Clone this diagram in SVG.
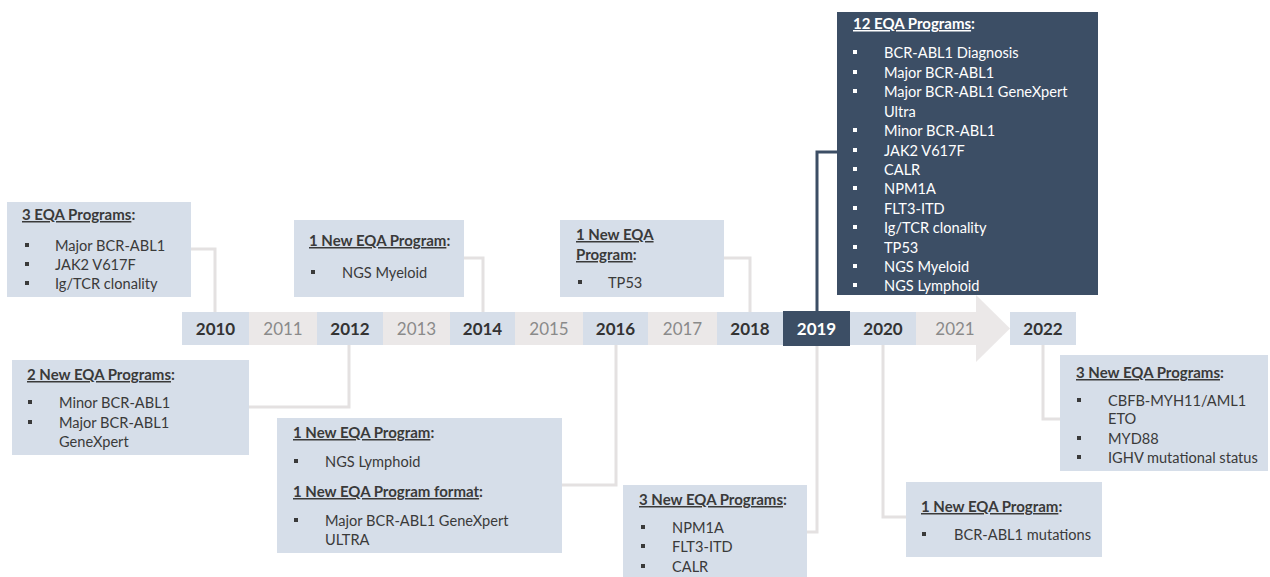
<svg xmlns="http://www.w3.org/2000/svg" width="1270" height="577" viewBox="0 0 1270 577">
<style>
text{font-family:Lato,"Open Sans","Liberation Sans",sans-serif;}
.box{fill:#d6dee9;}
.dark{fill:#3c4e65;}
.t{font-size:15px;font-weight:bold;fill:#3a3a3a;}
.i{font-size:14.6px;fill:#3a3a3a;}
.dk .t,.dk .i{fill:#ffffff;}
.u{text-decoration:underline;}
.b{fill:#3a3a3a;}
.dk .b{fill:#ffffff;}
.yb{font-size:17px;font-weight:bold;fill:#333333;text-anchor:middle;}
.yr{font-size:17px;fill:#8a8a8a;text-anchor:middle;}
.yw{font-size:17px;font-weight:bold;fill:#ffffff;text-anchor:middle;}
.con{fill:none;stroke:#e4e1e1;stroke-width:3;}
.cond{fill:none;stroke:#3c4e65;stroke-width:3;}
</style>

<g id="timeline">
  <rect x="182" y="312" width="796" height="33" fill="#ebe8e8"/>
  <polygon points="976,295 1010,328.5 976,362" fill="#ebe8e8"/>
  <rect x="182" y="312" width="67" height="33" class="box"/>
  <rect x="317" y="312" width="66" height="33" class="box"/>
  <rect x="450" y="312" width="65" height="33" class="box"/>
  <rect x="583" y="312" width="65" height="33" class="box"/>
  <rect x="717" y="312" width="66" height="33" class="box"/>
  <rect x="783" y="311" width="67" height="35" class="dark"/>
  <rect x="850" y="312" width="66" height="33" class="box"/>
  <rect x="1010" y="312" width="66" height="33" class="box"/>
  <text x="215.5" y="335" class="yb">2010</text>
  <text x="283" y="335" class="yr">2011</text>
  <text x="350" y="335" class="yb">2012</text>
  <text x="416.5" y="335" class="yr">2013</text>
  <text x="482.5" y="335" class="yb">2014</text>
  <text x="549" y="335" class="yr">2015</text>
  <text x="615.5" y="335" class="yb">2016</text>
  <text x="682.5" y="335" class="yr">2017</text>
  <text x="750" y="335" class="yb">2018</text>
  <text x="816.5" y="335" class="yw">2019</text>
  <text x="883" y="335" class="yb">2020</text>
  <text x="955" y="335" class="yr">2021</text>
  <text x="1043" y="335" class="yb">2022</text>
</g>

<g id="connectors">
  <polyline class="con" points="191,249 215,249 215,312"/>
  <polyline class="con" points="464,258 483,258 483,312"/>
  <polyline class="con" points="724,258 750,258 750,312"/>
  <polyline class="con" points="349,345 349,407 249,407"/>
  <polyline class="con" points="616,345 616,485 562,485"/>
  <polyline class="con" points="817,346 817,532 807,532"/>
  <polyline class="con" points="883,345 883,517 906,517"/>
  <polyline class="con" points="1043,345 1043,419 1060,419"/>
  <polyline class="cond" points="817,311 817,152 837,152"/>
</g>

<g id="box2010">
  <rect x="7" y="202" width="184" height="95" class="box"/>
  <text x="22" y="220" class="t"><tspan class="u">3 EQA Programs</tspan>:</text>
  <rect x="25" y="243" width="4" height="4" class="b"/>
  <rect x="25" y="262" width="4" height="4" class="b"/>
  <rect x="25" y="281" width="4" height="4" class="b"/>
  <text x="55" y="251" class="i">Major BCR-ABL1</text>
  <text x="55" y="270" class="i">JAK2 V617F</text>
  <text x="55" y="289" class="i">Ig/TCR clonality</text>
</g>

<g id="box2012">
  <rect x="12" y="360" width="237" height="95" class="box"/>
  <text x="27" y="380" class="t"><tspan class="u">2 New EQA Programs</tspan>:</text>
  <rect x="28" y="400" width="4" height="4" class="b"/>
  <rect x="28" y="420" width="4" height="4" class="b"/>
  <text x="59" y="408" class="i">Minor BCR-ABL1</text>
  <text x="59" y="428" class="i">Major BCR-ABL1</text>
  <text x="59" y="447" class="i">GeneXpert</text>
</g>

<g id="box2014">
  <rect x="294" y="220" width="170" height="77" class="box"/>
  <text x="309" y="246" class="t"><tspan class="u">1 New EQA Program</tspan>:</text>
  <rect x="311" y="270" width="4" height="4" class="b"/>
  <text x="342" y="278" class="i">NGS Myeloid</text>
</g>

<g id="box2016">
  <rect x="277" y="418" width="285" height="135" class="box"/>
  <text x="293" y="438" class="t"><tspan class="u">1 New EQA Program</tspan>:</text>
  <rect x="294" y="459" width="4" height="4" class="b"/>
  <text x="325" y="467" class="i">NGS Lymphoid</text>
  <text x="293" y="497" class="t"><tspan class="u">1 New EQA Program format</tspan>:</text>
  <rect x="294" y="518" width="4" height="4" class="b"/>
  <text x="325" y="526" class="i">Major BCR-ABL1 GeneXpert</text>
  <text x="325" y="545" class="i">ULTRA</text>
</g>

<g id="box2018">
  <rect x="560" y="220" width="164" height="77" class="box"/>
  <text x="576" y="240" class="t"><tspan class="u">1 New EQA</tspan></text>
  <text x="576" y="260" class="t"><tspan class="u">Program</tspan>:</text>
  <rect x="578" y="280" width="4" height="4" class="b"/>
  <text x="608" y="288" class="i">TP53</text>
</g>

<g id="box2019top" class="dk">
  <rect x="837" y="12" width="261" height="283" class="dark"/>
  <text x="853" y="29" class="t"><tspan class="u">12 EQA Programs</tspan>:</text>
  <rect x="853" y="50" width="4" height="4" class="b"/>
  <rect x="853" y="70" width="4" height="4" class="b"/>
  <rect x="853" y="89" width="4" height="4" class="b"/>
  <rect x="853" y="128" width="4" height="4" class="b"/>
  <rect x="853" y="148" width="4" height="4" class="b"/>
  <rect x="853" y="167" width="4" height="4" class="b"/>
  <rect x="853" y="186" width="4" height="4" class="b"/>
  <rect x="853" y="206" width="4" height="4" class="b"/>
  <rect x="853" y="225" width="4" height="4" class="b"/>
  <rect x="853" y="245" width="4" height="4" class="b"/>
  <rect x="853" y="264" width="4" height="4" class="b"/>
  <rect x="853" y="283" width="4" height="4" class="b"/>
  <text x="884" y="58" class="i">BCR-ABL1 Diagnosis</text>
  <text x="884" y="78" class="i">Major BCR-ABL1</text>
  <text x="884" y="97" class="i">Major BCR-ABL1 GeneXpert</text>
  <text x="884" y="117" class="i">Ultra</text>
  <text x="884" y="136" class="i">Minor BCR-ABL1</text>
  <text x="884" y="156" class="i">JAK2 V617F</text>
  <text x="884" y="175" class="i">CALR</text>
  <text x="884" y="194" class="i">NPM1A</text>
  <text x="884" y="214" class="i">FLT3-ITD</text>
  <text x="884" y="233" class="i">Ig/TCR clonality</text>
  <text x="884" y="253" class="i">TP53</text>
  <text x="884" y="272" class="i">NGS Myeloid</text>
  <text x="884" y="291" class="i">NGS Lymphoid</text>
</g>

<g id="box2019bottom">
  <rect x="623" y="485" width="184" height="92" class="box"/>
  <text x="639" y="505" class="t"><tspan class="u">3 New EQA Programs</tspan>:</text>
  <rect x="641" y="525" width="4" height="4" class="b"/>
  <rect x="641" y="544" width="4" height="4" class="b"/>
  <rect x="641" y="564" width="4" height="4" class="b"/>
  <text x="672" y="533" class="i">NPM1A</text>
  <text x="672" y="552" class="i">FLT3-ITD</text>
  <text x="672" y="572" class="i">CALR</text>
</g>

<g id="box2020">
  <rect x="906" y="482" width="196" height="75" class="box"/>
  <text x="921" y="512" class="t"><tspan class="u">1 New EQA Program</tspan>:</text>
  <rect x="922" y="532" width="4" height="4" class="b"/>
  <text x="954" y="540" class="i">BCR-ABL1 mutations</text>
</g>

<g id="box2022">
  <rect x="1060" y="355" width="208" height="116" class="box"/>
  <text x="1076" y="378" class="t"><tspan class="u">3 New EQA Programs</tspan>:</text>
  <rect x="1077" y="398" width="4" height="4" class="b"/>
  <rect x="1077" y="436" width="4" height="4" class="b"/>
  <rect x="1077" y="455" width="4" height="4" class="b"/>
  <text x="1108" y="406" class="i">CBFB-MYH11/AML1</text>
  <text x="1108" y="424" class="i">ETO</text>
  <text x="1108" y="444" class="i">MYD88</text>
  <text x="1108" y="463" class="i">IGHV mutational status</text>
</g>
</svg>
